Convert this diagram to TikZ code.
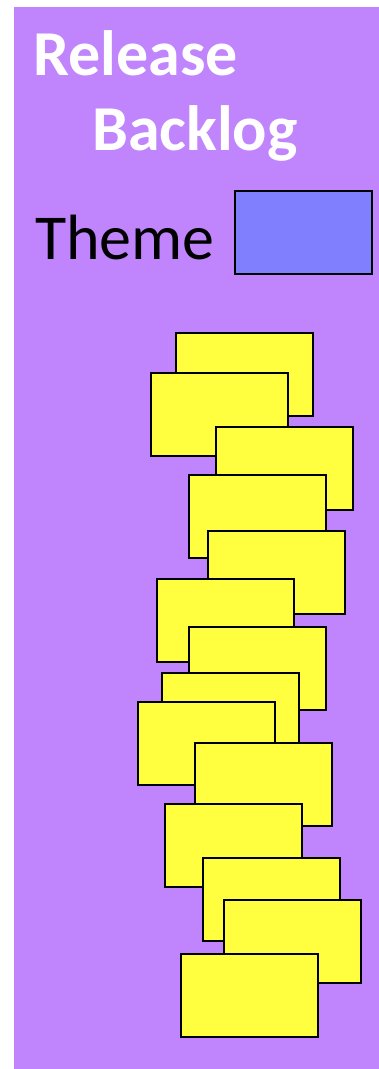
\documentclass[tikz,border=0pt]{standalone}
\usepackage{fontspec}
\setmainfont{Carlito}
\usepackage{tikz}
\usetikzlibrary{positioning}
\usepackage{xcolor}
\definecolor{backlogpurple}{RGB}{192,132,252}
\definecolor{storyyellow}{RGB}{255,255,64}
\definecolor{themeblue}{RGB}{128,128,255}

\begin{document}
\begin{tikzpicture}[
    x=1pt, y=-1pt,
    card/.style={rectangle, draw=black, line width=2pt, fill=storyyellow, minimum width=137pt, minimum height=83pt, inner sep=0pt},
    themecard/.style={card, fill=themeblue},
    heading/.style={anchor=base west, inner sep=0pt, text=white, font=\fontsize{64}{70}\selectfont\bfseries},
    label/.style={anchor=base west, inner sep=0pt, text=black, font=\fontsize{64}{70}\selectfont}
]
\useasboundingbox (0,0) rectangle (379,1069);

% Background panel
\fill[backlogpurple] (14,7) rectangle (379,1069);

% Title
\node[heading] (release) at (33,75) {Release};
\node[heading] (backlog) at (92,150) {Backlog};

% Theme legend
\node[label] (theme) at (35,259) {Theme};
\node[themecard] (themebox) at (303.5,232.5) {};

% Stack of stories
\node[card] (story1) at (244,374.5) {};
\node[card] (story2) at (219.5,414.5) {};
\node[card] (story3) at (284.5,468) {};
\node[card] (story4) at (257.5,516.5) {};
\node[card] (story5) at (276.5,572.5) {};
\node[card] (story6) at (225,620) {};
\node[card] (story7) at (257.5,668.5) {};
\node[card] (story8) at (230.5,714.5) {};
\node[card] (story9) at (206,743.5) {};
\node[card] (story10) at (263,784) {};
\node[card] (story11) at (233,845) {};
\node[card] (story12) at (271,899) {};
\node[card] (story13) at (292,941.5) {};
\node[card] (story14) at (249.5,995.5) {};

\end{tikzpicture}
\end{document}
